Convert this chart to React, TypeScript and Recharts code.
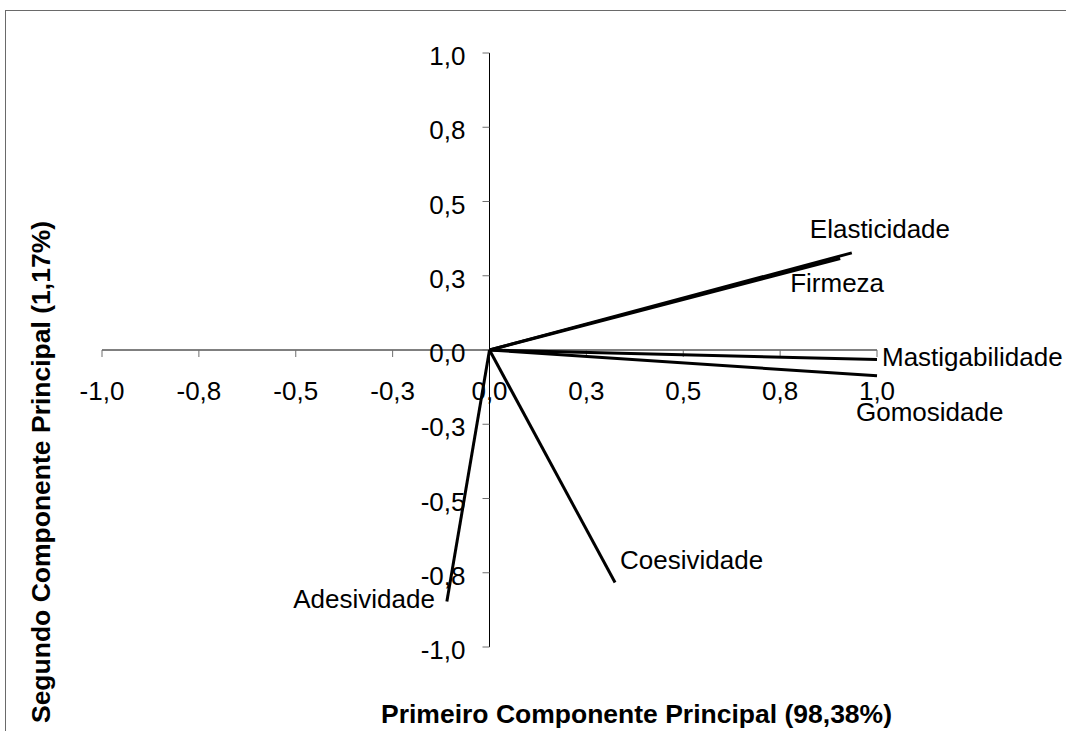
import React from 'react';
import { ScatterChart, Scatter, XAxis, YAxis, ReferenceLine, ReferenceDot } from 'recharts';

// loadings on the first two principal components
const variables = ['Firmeza', 'Elasticidade', 'Coesividade', 'Adesividade', 'Gomosidade', 'Mastigabilidade'];
const pc1 = [0.905, 0.935, 0.324, -0.11, 1.0, 1.0];
const pc2 = [0.308, 0.327, -0.783, -0.847, -0.087, -0.032];

const tickValues = [-1, -0.75, -0.5, -0.25, 0, 0.25, 0.5, 0.75, 1];
const tickLabels = ['-1,0', '-0,8', '-0,5', '-0,3', '0,0', '0,3', '0,5', '0,8', '1,0'];

// where each name sits relative to the tip of its vector
const labelOffsets = [
  { dx: -50, dy: 24.5, anchor: 'start' },
  { dx: -42, dy: -24, anchor: 'start' },
  { dx: 5, dy: -23, anchor: 'start' },
  { dx: -12, dy: -3, anchor: 'end' },
  { dx: -21, dy: 36, anchor: 'start' },
  { dx: 5, dy: -2.5, anchor: 'start' },
];

const FONT = '"Liberation Sans", Arial, sans-serif';
const FS = 26;
const TITLE_FS = 26.5;
const TICK_COLOR = '#6e6e6e';

const W = 1066;
const H = 731;

const vectors = variables.map((name, i) => ({
  name,
  offset: labelOffsets[i],
  data: [
    { x: 0, y: 0 },
    { x: pc1[i], y: pc2[i], name },
  ],
}));

const VectorTip = (offset: { dx: number; dy: number; anchor: string }) => (props: any) => {
  const { cx, cy, payload } = props;
  if (!payload || !payload.name) return <g />;
  return (
    <text
      x={cx + offset.dx}
      y={cy + offset.dy + 9.3}
      textAnchor={offset.anchor as any}
      fontFamily={FONT}
      fontSize={FS}
      fill="#000"
    >
      {payload.name}
    </text>
  );
};

const XTick = (label: string) => (props: any) => {
  const { cx, cy } = props;
  return (
    <g>
      <line x1={cx} y1={cy} x2={cx} y2={cy + 7} stroke={TICK_COLOR} strokeWidth={1} />
      <text x={cx} y={cy + 50} textAnchor="middle" fontFamily={FONT} fontSize={FS} fill="#000">
        {label}
      </text>
    </g>
  );
};

const YTick = (label: string) => (props: any) => {
  const { cx, cy } = props;
  return (
    <g>
      <line x1={cx - 7} y1={cy} x2={cx} y2={cy} stroke={TICK_COLOR} strokeWidth={1} />
      <text x={cx - 24} y={cy + 12} textAnchor="end" fontFamily={FONT} fontSize={FS} fill="#000">
        {label}
      </text>
    </g>
  );
};

export default function App() {
  return (
    <div style={{ position: 'absolute', left: 0, top: 0, width: W, height: H, background: '#fff', overflow: 'hidden' }}>
      <div
        style={{
          position: 'absolute',
          left: 5,
          top: 10,
          width: W,
          height: H,
          borderTop: '1px solid #6a6a6a',
          borderLeft: '1px solid #6a6a6a',
        }}
      />
      <ScatterChart width={W} height={H} margin={{ top: 53, right: 189, bottom: 84, left: 102 }}>
        <XAxis type="number" dataKey="x" domain={[-1, 1]} hide />
        <YAxis type="number" dataKey="y" domain={[-1, 1]} hide />
        <ReferenceLine x={0} stroke="#000" strokeWidth={1} />
        <ReferenceLine y={0} stroke="#000" strokeWidth={1} />
        {tickValues.map((v, i) => (
          <ReferenceDot key={`xt-${i}`} x={v} y={0} r={0} shape={XTick(tickLabels[i])} />
        ))}
        {tickValues.map((v, i) => (
          <ReferenceDot key={`yt-${i}`} x={0} y={v} r={0} shape={YTick(tickLabels[i])} />
        ))}
        {vectors.map((v) => (
          <Scatter
            key={v.name}
            name={v.name}
            data={v.data}
            line={{ stroke: '#000', strokeWidth: 3 }}
            stroke="#000"
            strokeWidth={3}
            shape={VectorTip(v.offset)}
            isAnimationActive={false}
          />
        ))}
      </ScatterChart>
      <div
        style={{
          position: 'absolute',
          left: 636.5,
          top: 714,
          transform: 'translate(-50%, -50%)',
          fontFamily: FONT,
          fontWeight: 'bold',
          fontSize: TITLE_FS,
          whiteSpace: 'nowrap',
          color: '#000',
        }}
      >
        Primeiro Componente Principal (98,38%)
      </div>
      <div
        style={{
          position: 'absolute',
          left: 41,
          top: 471.5,
          transform: 'translate(-50%, -50%) rotate(-90deg)',
          fontFamily: FONT,
          fontWeight: 'bold',
          fontSize: TITLE_FS,
          whiteSpace: 'nowrap',
          color: '#000',
        }}
      >
        Segundo Componente Principal (1,17%)
      </div>
    </div>
  );
}
